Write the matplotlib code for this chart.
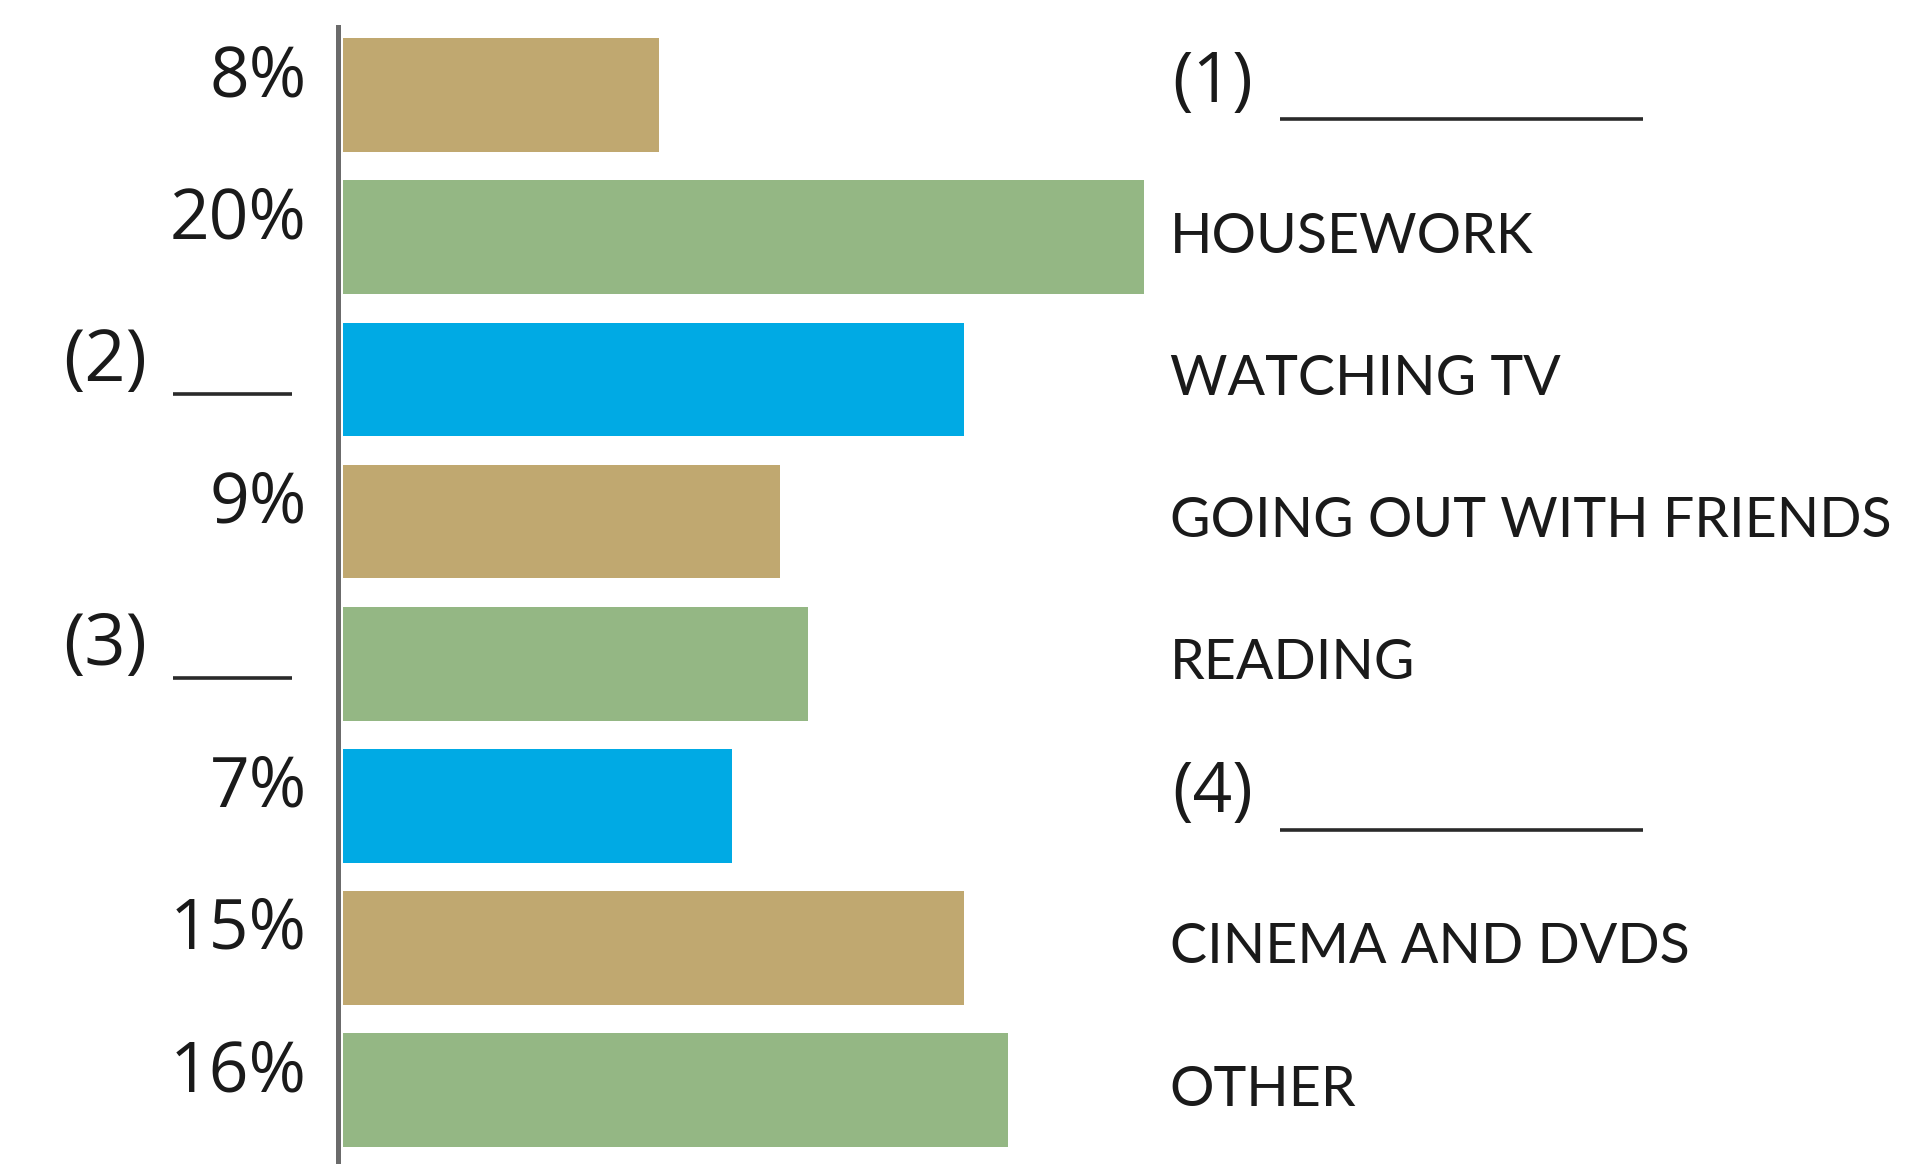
import matplotlib
matplotlib.use("Agg")
import matplotlib.pyplot as plt

# =====================================
# DATA
# =====================================
bar_lengths  = [7.9, 20.0, 15.5, 10.9, 11.6, 9.7, 15.5, 16.6]   # drawn bar length, in %
left_labels  = ["8%", "20%", "(2)", "9%", "(3)", "7%", "15%", "16%"]
right_labels = ["(1)", "HOUSEWORK", "WATCHING TV", "GOING OUT WITH FRIENDS",
                "READING", "(4)", "CINEMA AND DVDS", "OTHER"]
bar_colors   = ["#C0A870", "#94B784", "#00AAE4"] * 3

# =====================================
# FIGURE
# =====================================
W, H, DPI = 1915, 1164, 100
fig = plt.figure(figsize=(W / DPI, H / DPI), dpi=DPI)
fig.patch.set_facecolor("white")

ax = fig.add_axes([343 / W, 0, 1 - 343 / W, 1137 / H])
n = len(bar_lengths)
ypos = list(range(n))

ax.barh(ypos, bar_lengths, height=0.80, color=bar_colors[:n], linewidth=0)
ax.set_xlim(0, (W - 343) / 40.06)
ax.set_ylim(7.52, -0.48)

for s in ["top", "right", "bottom"]:
    ax.spines[s].set_visible(False)
ax.spines["left"].set_position(("data", -0.12))
ax.spines["left"].set_color("#6B6B6B")
ax.spines["left"].set_linewidth(3.6)
ax.set_xticks([])
ax.set_yticks([])

LEFT_FONT  = "Open Sans"
RIGHT_FONT = "Lato"
INK        = "#1A1A1A"

# left side: percentages and blanks (2), (3)
for y, lab in zip(ypos, left_labels):
    if lab.startswith("("):
        ax.text(-6.98, y - 0.12, lab, ha="left", va="center", fontsize=52,
                family=LEFT_FONT, color=INK, clip_on=False)
        ax.hlines(y + 0.1, -4.25, -1.28, color="#2A2A2A", linewidth=2.6, clip_on=False)
    else:
        ax.text(-0.9, y - 0.12, lab, ha="right", va="center", fontsize=50,
                family=LEFT_FONT, color=INK, clip_on=False)

# right side: activity names and blanks (1), (4)
for y, lab in zip(ypos, right_labels):
    if lab.startswith("("):
        ax.text(20.7, y - 0.08, lab, ha="left", va="center", fontsize=50,
                family=LEFT_FONT, color=INK, clip_on=False)
        ax.hlines(y + 0.17, 23.4, 32.45, color="#2A2A2A", linewidth=2.6, clip_on=False)
    else:
        ax.text(20.64, y, lab, ha="left", va="center", fontsize=40,
                family=RIGHT_FONT, color=INK, clip_on=False)

plt.savefig("out.png", dpi=DPI, facecolor="white")
